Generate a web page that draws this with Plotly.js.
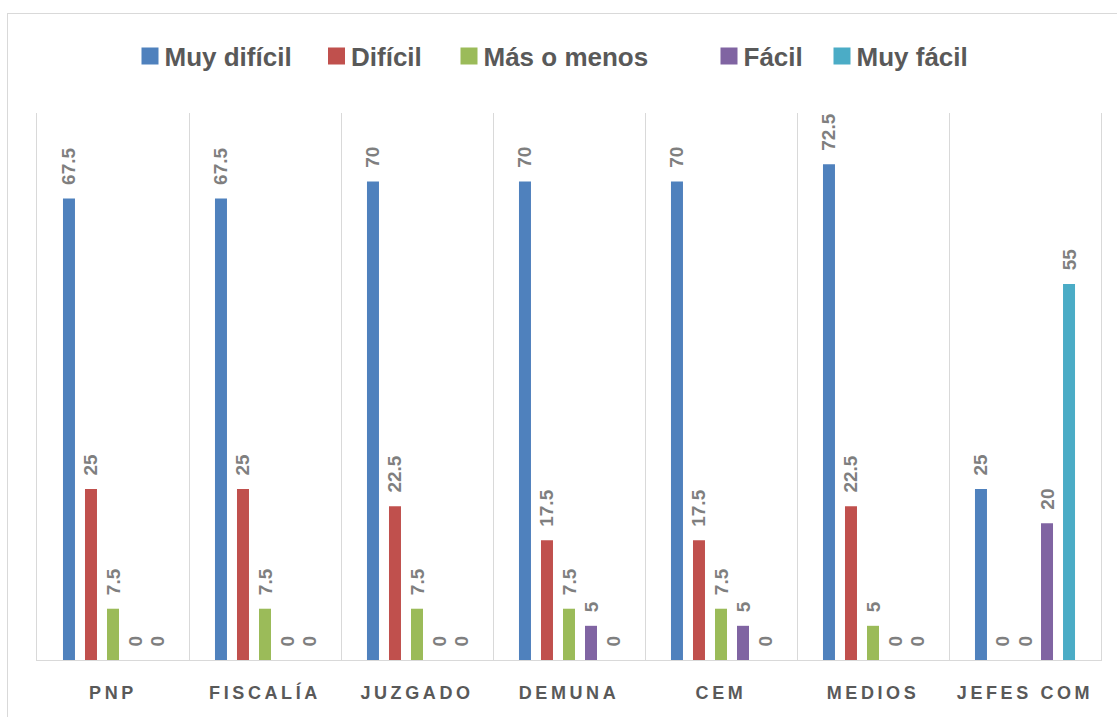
<!DOCTYPE html>
<html>
<head>
<meta charset="utf-8">
<script src="https://cdn.plot.ly/plotly-3.0.1.min.js"></script>
<style>
  html, body { margin: 0; padding: 0; background: #ffffff; }
  #wrap { position: relative; width: 1117px; height: 717px; overflow: hidden; }
  #frame { position: absolute; left: 7px; top: 13px; right: -5px; bottom: -5px;
           border: 1px solid #d9d9d9; pointer-events: none; z-index: 5; }
  #chart { position: absolute; left: 0; top: 0; width: 1117px; height: 717px; }
  .xtick text { letter-spacing: 3.6px; }
  .legendpoints path {
    transform: none !important;
    d: path("M34,8.5H17V-8.5H34Z") !important;
  }
</style>
</head>
<body>
<div id="wrap">
  <div id="chart"></div>
  <div id="frame"></div>
</div>
<script>
const categories = ['PNP', 'FISCALÍA', 'JUZGADO', 'DEMUNA', 'CEM', 'MEDIOS', 'JEFES COM'];
const seriesNames = ['Muy difícil', 'Difícil', 'Más o menos', 'Fácil', 'Muy fácil'];
const muyDificil = [67.5, 67.5, 70, 70, 70, 72.5, 25];
const dificil    = [25, 25, 22.5, 17.5, 17.5, 22.5, 0];
const masOMenos  = [7.5, 7.5, 7.5, 7.5, 7.5, 5, 0];
const facil      = [0, 0, 0, 5, 5, 0, 20];
const muyFacil   = [0, 0, 0, 0, 0, 0, 55];
const seriesValues = [muyDificil, dificil, masOMenos, facil, muyFacil];
const colors = ['#4f81bd', '#c0504d', '#9bbb59', '#8064a2', '#4bacc6'];

const W = 1117, H = 717;
const margin = { l: 37, r: 16, t: 113, b: 57 };
const plotW = W - margin.l - margin.r;
const plotH = H - margin.t - margin.b;

// legend marker centres (px) for each entry
const legendCentersPx = [149.5, 336, 468.5, 728.5, 841.5];
const legendCenterYPx = 56;

const traces = seriesValues.map((vals, i) => ({
  type: 'bar',
  name: seriesNames[i],
  x: categories,
  y: vals,
  marker: { color: colors[i] },
  text: vals.map(v => String(v)),
  texttemplate: '\u00a0\u00a0%{text}',
  textposition: 'outside',
  textangle: -90,
  constraintext: 'none',
  cliponaxis: false,
  textfont: { family: 'Liberation Sans, Arial, sans-serif', size: 19, color: '#7f7f7f', weight: 'bold' },
  hoverinfo: 'x+y+name',
  legend: i === 0 ? 'legend' : 'legend' + (i + 1)
}));

const layout = {
  width: W,
  height: H,
  margin: margin,
  paper_bgcolor: 'rgba(0,0,0,0)',
  plot_bgcolor: 'rgba(0,0,0,0)',
  barmode: 'group',
  bargap: 0.276,
  bargroupgap: 0.455,
  font: { family: 'Liberation Sans, Arial, sans-serif', color: '#595959' },
  xaxis: {
    type: 'category',
    tickson: 'boundaries',
    showgrid: true,
    gridcolor: '#d9d9d9',
    gridwidth: 1,
    showline: true,
    linecolor: '#d9d9d9',
    linewidth: 1,
    ticks: '',
    ticklabelstandoff: 16,
    tickfont: { family: 'Liberation Sans, Arial, sans-serif', size: 18, color: '#595959', weight: 'bold' },
    fixedrange: true
  },
  yaxis: {
    range: [0, 80],
    showgrid: false,
    zeroline: false,
    showticklabels: false,
    ticks: '',
    showline: true,
    mirror: true,
    linecolor: '#d9d9d9',
    linewidth: 1,
    fixedrange: true
  },
  showlegend: true
};

legendCentersPx.forEach((cx, i) => {
  const key = i === 0 ? 'legend' : 'legend' + (i + 1);
  layout[key] = {
    orientation: 'h',
    x: (cx - 25 - margin.l) / plotW,
    xanchor: 'left',
    y: (H - margin.b - legendCenterYPx) / plotH,
    yanchor: 'middle',
    bgcolor: 'rgba(0,0,0,0)',
    font: { family: 'Liberation Sans, Arial, sans-serif', size: 26, color: '#595959', weight: 'bold' },
    itemclick: false,
    itemdoubleclick: false
  };
});

Plotly.newPlot('chart', traces, layout, { displayModeBar: false, staticPlot: true });
</script>
</body>
</html>
